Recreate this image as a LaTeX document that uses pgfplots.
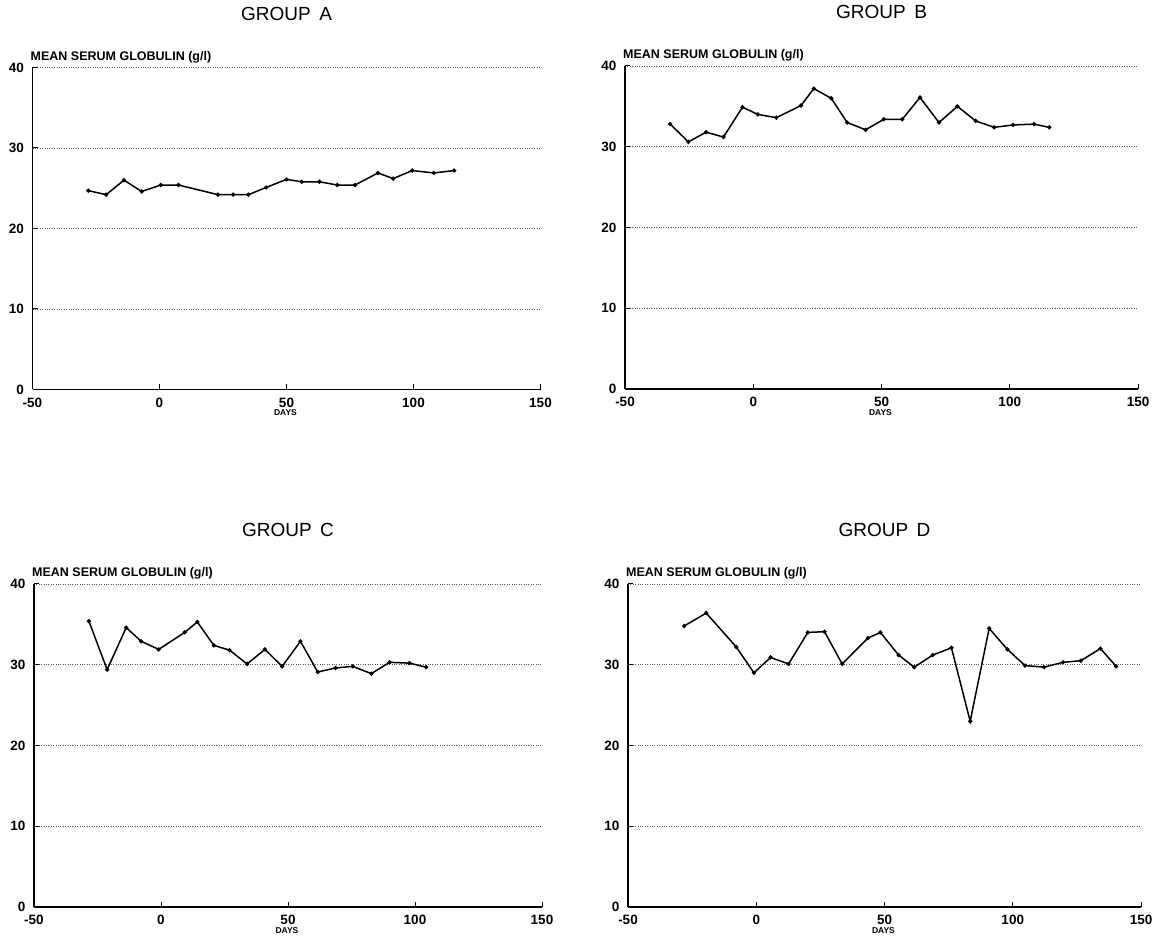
\documentclass[border=0pt]{standalone}
\usepackage{fontspec}
\setmainfont{Liberation Sans}
\usepackage{pgfplots}
\pgfplotsset{compat=1.18}
\begin{document}
\begin{tikzpicture}
\useasboundingbox (0pt,0pt) rectangle (1156pt,950pt);
\pgfplotsset{
  panel/.style={
    scale only axis, anchor=south west,
    xmin=-50, xmax=150, ymin=0, ymax=40,
    xtick={-50,0,50,100,150}, ytick={0,10,20,30,40},
    axis x line=bottom, axis y line=left,
    axis line style={-, line width=1.4pt},
    tick align=inside, major tick length=5pt,
    tick style={line width=1pt, black},
    ymajorgrids, grid style={dotted, line width=0.7pt, black!65},
    clip=false,
    /pgf/number format/assume math mode=true,
    ticklabel style={font=\fontsize{13.5}{14}\selectfont\bfseries},
    xticklabel style={anchor=base, yshift=-18pt},
    yticklabel style={xshift=-5pt},
    title style={at={(axis description cs:0.5,1)}, anchor=center, yshift=48pt,
      font=\fontsize{19}{21}\selectfont},
    every axis y label/.style={at={(axis description cs:0,1)}, anchor=base west,
      inner sep=0pt, xshift=-2pt, yshift=7pt, font=\fontsize{12.5}{13}\selectfont\bfseries},
    every axis x label/.style={at={(axis description cs:0.498,0)}, anchor=base,
      inner sep=0pt, yshift=-26.5pt, font=\fontsize{8.5}{9}\selectfont\bfseries},
    ylabel={MEAN SERUM GLOBULIN (g/l)},
    xlabel={DAYS},
  },
  series/.style={black, line width=1.5pt, mark=*, mark size=1.3pt,
    mark options={solid, fill=black}},
}

% GROUP A
\begin{axis}[panel, at={(32.5pt,560.5pt)}, width=508pt, height=322pt,
  title={GROUP\hspace{0.45em}A}]
\addplot[series] coordinates {
(-28,24.7) (-21,24.2) (-14,26.0) (-7,24.6) (0.5,25.4) (7.5,25.4)
(23,24.2) (29,24.2) (35,24.2) (42,25.1) (50,26.1) (56,25.8)
(63,25.8) (70,25.4) (77,25.4) (86,26.9) (92,26.2) (99.5,27.2)
(108,26.9) (116,27.2)};
\end{axis}

% GROUP B
\begin{axis}[panel, at={(625pt,561pt)}, width=513pt, height=323pt,
  title={GROUP\hspace{0.45em}B}]
\addplot[series] coordinates {
(-32.4,32.8) (-25.3,30.6) (-18.4,31.8) (-11.6,31.2) (-4.2,34.9) (1.8,34.0)
(9.0,33.6) (18.6,35.1) (23.6,37.2) (30.4,36.0) (36.6,33.0) (43.8,32.1)
(50.9,33.4) (58.1,33.4) (65.0,36.1) (72.4,33.0) (79.6,35.0) (86.7,33.2)
(93.9,32.4) (101.3,32.7) (109.5,32.8) (115.4,32.4)};
\end{axis}

% GROUP C
\begin{axis}[panel, at={(34pt,43pt)}, width=508pt, height=323pt,
  title={GROUP\hspace{0.45em}C}]
\addplot[series] coordinates {
(-28.4,35.4) (-21.2,29.4) (-13.7,34.6) (-7.8,32.9) (-0.9,31.9) (9.3,34.0)
(14.3,35.3) (20.8,32.4) (27.0,31.8) (33.9,30.1) (40.9,31.9) (47.7,29.8)
(54.9,32.9) (61.7,29.1) (68.7,29.6) (75.5,29.8) (82.8,28.9) (90.0,30.3)
(97.8,30.2) (104.4,29.7)};
\end{axis}

% GROUP D
\begin{axis}[panel, at={(628pt,43pt)}, width=513pt, height=323pt,
  title={GROUP\hspace{0.45em}D}]
\addplot[series] coordinates {
(-28.1,34.8) (-19.5,36.4) (-7.8,32.2) (-0.9,29.0) (5.6,30.9) (12.6,30.1)
(20.1,34.0) (26.6,34.1) (33.5,30.1) (43.5,33.3) (48.4,34.0) (55.5,31.2)
(61.6,29.7) (68.8,31.2) (76.1,32.1) (83.4,23.0) (90.8,34.5) (97.9,31.9)
(104.8,29.9) (112.2,29.7) (119.6,30.3) (126.5,30.5) (134.2,32.0) (140.3,29.8)};
\end{axis}
\end{tikzpicture}
\end{document}
